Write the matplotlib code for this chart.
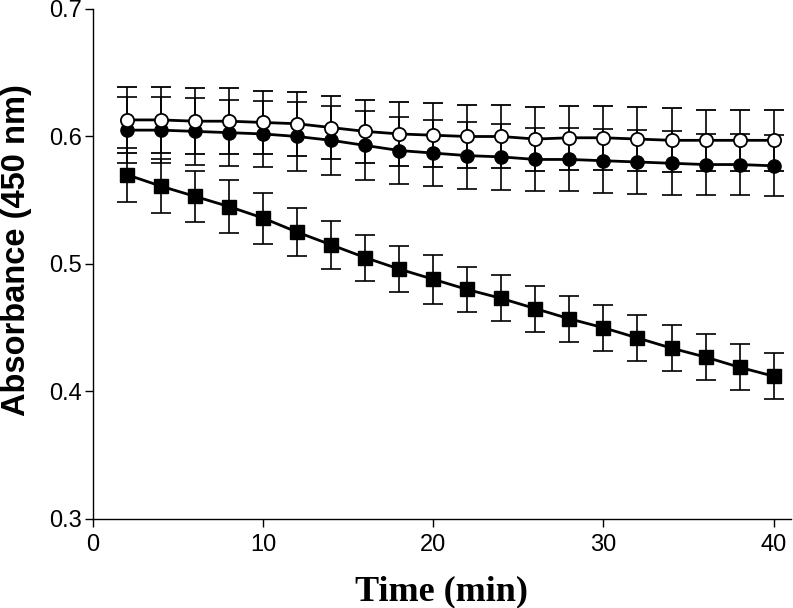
import matplotlib
matplotlib.use("Agg")
import matplotlib.pyplot as plt
import numpy as np

time_min = [2, 4, 6, 8, 10, 12, 14, 16, 18, 20, 22, 24, 26, 28, 30, 32, 34, 36, 38, 40]

open_circle = [0.613, 0.613, 0.612, 0.612, 0.611, 0.610, 0.607, 0.604, 0.602, 0.601,
               0.600, 0.600, 0.598, 0.599, 0.599, 0.598, 0.597, 0.597, 0.597, 0.597]
open_err = [0.026, 0.026, 0.026, 0.026, 0.025, 0.025, 0.025, 0.025, 0.025, 0.025,
            0.025, 0.025, 0.025, 0.025, 0.025, 0.025, 0.025, 0.024, 0.024, 0.024]

filled_circle = [0.605, 0.605, 0.604, 0.603, 0.602, 0.600, 0.597, 0.593, 0.589, 0.587,
                 0.585, 0.584, 0.582, 0.582, 0.581, 0.580, 0.579, 0.578, 0.578, 0.577]
filled_err = [0.026, 0.026, 0.026, 0.026, 0.026, 0.027, 0.027, 0.027, 0.026, 0.026,
              0.026, 0.026, 0.025, 0.025, 0.025, 0.025, 0.025, 0.024, 0.024, 0.024]

square = [0.570, 0.561, 0.553, 0.545, 0.536, 0.525, 0.515, 0.505, 0.496, 0.488,
          0.480, 0.473, 0.465, 0.457, 0.450, 0.442, 0.434, 0.427, 0.419, 0.412]
square_err = [0.021, 0.021, 0.020, 0.021, 0.020, 0.019, 0.019, 0.018, 0.018, 0.019,
              0.018, 0.018, 0.018, 0.018, 0.018, 0.018, 0.018, 0.018, 0.018, 0.018]

x_ticks = [0, 10, 20, 30, 40]
y_ticks = [0.3, 0.4, 0.5, 0.6, 0.7]

fig = plt.figure(figsize=(7.93, 6.08), dpi=100)
ax = fig.add_axes([0.1173, 0.1464, 0.8827 - 0.003, 0.8388])

common = dict(color='black', lw=2.0, elinewidth=1.2, capsize=7.5, capthick=1.2, markersize=9.5)
ax.errorbar(time_min, square, yerr=square_err, fmt='-s', mfc='black', mec='black', zorder=3, **common)
ax.errorbar(time_min, filled_circle, yerr=filled_err, fmt='-o', mfc='black', mec='black', zorder=4, **common)
ax.errorbar(time_min, open_circle, yerr=open_err, fmt='-o', mfc='white', mec='black', mew=1.3, zorder=5, **common)

ax.set_xlim(0, 41)
ax.set_ylim(0.3, 0.7)
ax.set_xticks(x_ticks)
ax.set_yticks(y_ticks)
ax.set_yticklabels([f"{v:.1f}" for v in y_ticks])
for s in ['top', 'right']:
    ax.spines[s].set_visible(False)
for s in ['left', 'bottom']:
    ax.spines[s].set_linewidth(1.0)
ax.tick_params(direction='out', length=6, width=1.0, labelsize=17)
ax.tick_params(axis='x', pad=5)
ax.tick_params(axis='y', pad=2)
for lab in ax.get_xticklabels() + ax.get_yticklabels():
    lab.set_family('Liberation Sans')

ax.set_xlabel('Time (min)', family='Liberation Serif', fontweight='bold', fontsize=26, labelpad=14)
ax.set_ylabel('Absorbance (450 nm)', family='Liberation Sans', fontweight='bold', fontsize=23.5)
ax.yaxis.set_label_coords(-0.088, 0.527)

fig.savefig('out.png', dpi=100)
